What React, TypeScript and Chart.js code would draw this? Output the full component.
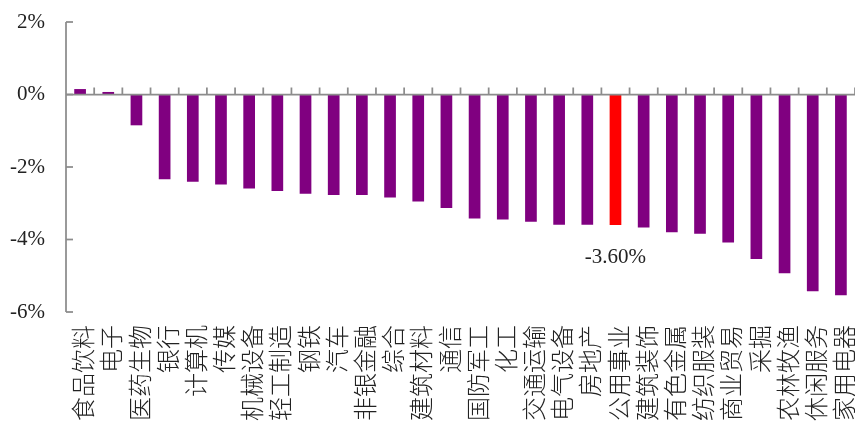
import React, { useEffect, useRef } from "react";
import { Chart, registerables } from "chart.js";

Chart.register(...registerables);

// Industry names along the x axis
const categories: string[] = [
  "食品饮料", "电子", "医药生物", "银行", "计算机", "传媒", "机械设备",
  "轻工制造", "钢铁", "汽车", "非银金融", "综合", "建筑材料", "通信",
  "国防军工", "化工", "交通运输", "电气设备", "房地产", "公用事业",
  "建筑装饰", "有色金属", "纺织服装", "商业贸易", "采掘", "农林牧渔",
  "休闲服务", "家用电器",
];

// Weekly change, %
const changes: number[] = [
  0.15, 0.07, -0.85, -2.34, -2.41, -2.48, -2.59,
  -2.66, -2.74, -2.77, -2.77, -2.84, -2.95, -3.13,
  -3.42, -3.45, -3.51, -3.59, -3.59, -3.60,
  -3.67, -3.80, -3.84, -4.08, -4.54, -4.93,
  -5.43, -5.54,
];

// Highlighted industry
const highlight = "公用事业";

// Y axis range and step, %
const yMin = -6;
const yMax = 2;
const yStep = 2;

const PURPLE = "#800080";
const RED = "#ff0000";
const AXIS = "#8c8c8c";
const SERIF = '"Liberation Serif", "Times New Roman", serif';

const axisPlugin = {
  id: "axisDecor",
  afterDraw(chart: any) {
    const { ctx, chartArea, scales } = chart;
    const x = scales.x;
    const y = scales.y;
    const zeroY = y.getPixelForValue(0);
    ctx.save();
    ctx.strokeStyle = AXIS;
    ctx.lineWidth = 1.75;
    // vertical axis line
    ctx.beginPath();
    ctx.moveTo(chartArea.left, y.getPixelForValue(yMax));
    ctx.lineTo(chartArea.left, y.getPixelForValue(yMin));
    ctx.stroke();
    // inward ticks on the value axis
    for (let v = yMin; v <= yMax; v += yStep) {
      const py = y.getPixelForValue(v);
      ctx.beginPath();
      ctx.moveTo(chartArea.left, py);
      ctx.lineTo(chartArea.left + 7, py);
      ctx.stroke();
    }
    // zero line
    ctx.beginPath();
    ctx.moveTo(chartArea.left, zeroY);
    ctx.lineTo(chartArea.right, zeroY);
    ctx.stroke();
    // category boundary ticks, pointing up from the zero line
    for (let i = 1; i <= categories.length; i++) {
      const px =
        i < categories.length
          ? (x.getPixelForValue(i - 1) + x.getPixelForValue(i)) / 2
          : chartArea.right;
      ctx.beginPath();
      ctx.moveTo(px, zeroY);
      ctx.lineTo(px, zeroY - 7);
      ctx.stroke();
    }
    ctx.restore();
  },
  afterDatasetsDraw(chart: any) {
    const idx = categories.indexOf(highlight);
    if (idx < 0) return;
    const bar = chart.getDatasetMeta(0).data[idx];
    const { ctx } = chart;
    ctx.save();
    ctx.fillStyle = "#222";
    ctx.font = `21px ${SERIF}`;
    ctx.textAlign = "center";
    ctx.textBaseline = "middle";
    ctx.fillText(changes[idx].toFixed(2) + "%", bar.x, bar.y + 32);
    ctx.restore();
  },
};

export default function App() {
  const canvasRef = useRef<HTMLCanvasElement | null>(null);

  useEffect(() => {
    if (!canvasRef.current) return;
    const chart = new Chart(canvasRef.current, {
      type: "bar",
      data: {
        labels: categories,
        datasets: [
          {
            data: changes,
            backgroundColor: categories.map((c) => (c === highlight ? RED : PURPLE)),
            borderWidth: 0,
            barPercentage: 0.415,
            categoryPercentage: 1,
          },
        ],
      },
      plugins: [axisPlugin],
      options: {
        animation: false,
        responsive: false,
        devicePixelRatio: 1,
        layout: { padding: { top: 22, left: 0, right: 0, bottom: 0 } },
        plugins: {
          legend: { display: false },
          tooltip: { enabled: false },
          title: { display: false },
        },
        scales: {
          x: {
            grid: { display: false, drawTicks: false },
            border: { display: false },
            ticks: {
              autoSkip: false,
              minRotation: 90,
              maxRotation: 90,
              padding: 13,
              labelOffset: 3,
              color: "#222",
              font: { family: '"Noto Sans CJK SC", sans-serif', size: 24, weight: 300 as any },
            },
            afterFit(scale: any) {
              scale.height = 109;
              scale.paddingLeft = 0;
              scale.paddingRight = 0;
            },
          },
          y: {
            min: yMin,
            max: yMax,
            grid: { display: false, drawTicks: false },
            border: { display: false },
            ticks: {
              stepSize: yStep,
              padding: 21,
              color: "#222",
              font: { family: SERIF, size: 21 },
              callback: (v: any) => `${v}%`,
            },
            afterFit(scale: any) {
              scale.width = 66;
              scale.paddingTop = 0;
              scale.paddingBottom = 0;
            },
          },
        },
      },
    });
    return () => chart.destroy();
  }, []);

  return (
    <div style={{ position: "fixed", left: 0, top: 0, width: 855, height: 421, background: "#fff" }}>
      <canvas ref={canvasRef} width={855} height={421} />
    </div>
  );
}
